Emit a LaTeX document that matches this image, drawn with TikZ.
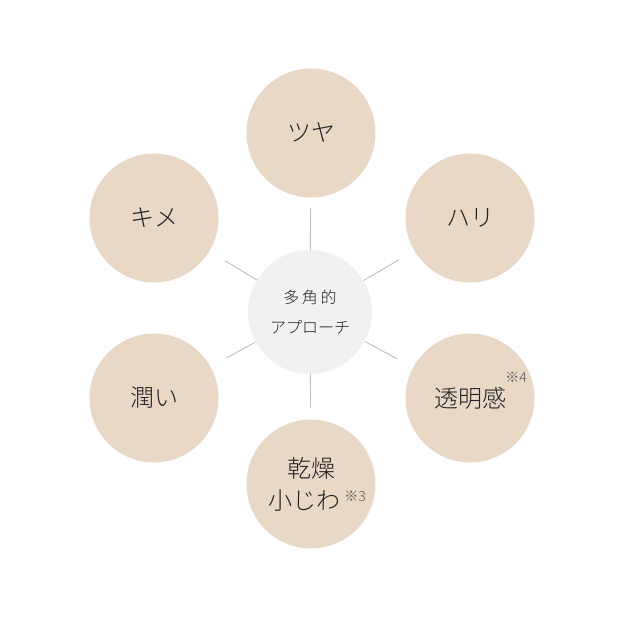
\documentclass[tikz,border=0pt]{standalone}
\usepackage{fontspec}
\setmainfont{Noto Sans CJK JP Light}
\definecolor{beige}{HTML}{EAD8C7}
\definecolor{hubgray}{HTML}{F1F1F1}
\definecolor{linegray}{HTML}{BDBDBD}
\definecolor{txt}{HTML}{222222}
\definecolor{notegray}{HTML}{555555}
\tikzset{
  petal/.style={circle, fill=beige, minimum size=129pt, inner sep=0pt, text=txt,
    font=\fontsize{24}{28}\selectfont, align=center},
  hub/.style={circle, fill=hubgray, minimum size=124pt, inner sep=0pt, text=txt,
    font=\fontsize{16}{30}\selectfont, align=center},
  spoke/.style={draw=linegray, line width=0.9pt},
  note/.style={text=notegray, font=\fontsize{14}{16}\selectfont, inner sep=0pt},
}
\begin{document}
\begin{tikzpicture}[x=1pt,y=-1pt]
\useasboundingbox (0,0) rectangle (630,618);
\node[hub] (c) at (310,312) {多\,角\,的\\アプローチ};
\node[petal] (t)  at (311,133) {ツヤ};
\node[petal] (rt) at (470,218) {ハリ};
\node[petal] (rb) at (470,398) {透明感};
\node[petal] (b)  at (311,484) {};
\node[petal] (lb) at (154,398) {潤い};
\node[petal] (lt) at (154,218) {キメ};
\node[text=txt, font=\fontsize{24}{28}\selectfont, inner sep=0pt] (b1) at (311,468) {乾燥};
\node[text=txt, font=\fontsize{24}{28}\selectfont, inner sep=0pt] (b2) at (304,501) {小じわ};
\node[note] (n3) at (355,496) {※3};
\node[note] (n4) at (516,377) {※4};
\draw[spoke, shorten >=10pt] (c) -- (t);
\draw[spoke, shorten >=12pt] (c) -- (b);
\draw[spoke, shorten >=18pt] (c) -- (rt);
\draw[spoke, shorten >=18pt] (c) -- (rb);
\draw[spoke, shorten >=18pt] (c) -- (lb);
\draw[spoke, shorten >=18pt] (c) -- (lt);
\end{tikzpicture}
\end{document}
